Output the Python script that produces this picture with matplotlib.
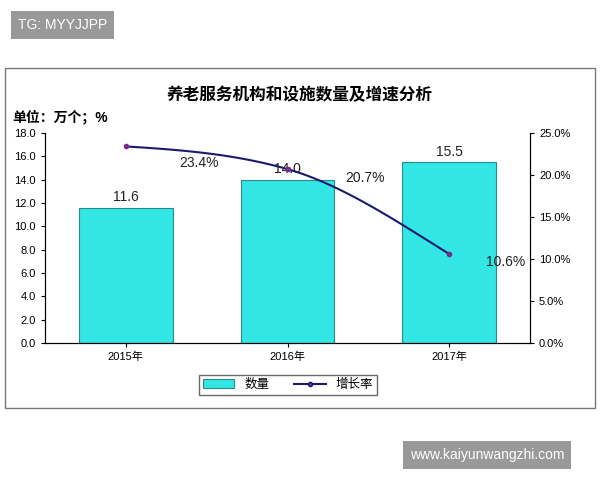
import numpy as np
import matplotlib.pyplot as plt
from matplotlib.patches import Rectangle

plt.rcParams['font.family'] = ['Liberation Sans', 'Noto Sans CJK SC', 'DejaVu Sans']

years = ['2015年', '2016年', '2017年']
counts = [11.6, 14.0, 15.5]
growth = [23.4, 20.7, 10.6]

fig = plt.figure(figsize=(6, 4.8), dpi=100)

# outer frame of the chart
fig.patches.append(Rectangle((5/600, 1-408/480), 590/600, 340/480, transform=fig.transFigure,
                             fill=False, edgecolor='#777777', lw=1))

ax = fig.add_axes([45/600, 1-343/480, 485/600, 210/480])
x = np.arange(len(years))
ax.bar(x, counts, width=0.58, color='#33e6e6', edgecolor='#2a8a8a', lw=0.8, label='数量')
for xi, v in zip(x, counts):
    ax.text(xi, v + 0.3, f'{v:.1f}', ha='center', va='bottom', fontsize=10, color='#222222')
ax.set_ylim(0, 18)
ax.set_yticks(np.arange(0, 18.1, 2))
ax.set_yticklabels([f'{v:.1f}' for v in np.arange(0, 18.1, 2)], fontsize=8)
ax.set_xlim(-0.5, 2.5)
ax.set_xticks(x)
ax.set_xticklabels(years, fontsize=8)
ax.tick_params(length=3)
ax.spines['top'].set_visible(False)

ax2 = ax.twinx()
# cubic Hermite between the points for a smooth curve
slopes = [-1.2, -5.5, -12.0]
xs_all, ys_all = [], []
for i in range(len(x) - 1):
    t = np.linspace(0, 1, 30)
    h00 = 2*t**3 - 3*t**2 + 1
    h10 = t**3 - 2*t**2 + t
    h01 = -2*t**3 + 3*t**2
    h11 = t**3 - t**2
    xs_all.append(x[i] + t)
    ys_all.append(h00*growth[i] + h10*slopes[i] + h01*growth[i+1] + h11*slopes[i+1])
ax2.plot(np.concatenate(xs_all), np.concatenate(ys_all), color='#1a1a6e', lw=1.5)
ax2.plot(x, growth, 'o', color='#7a2a8a', ms=3)
line_handle, = ax2.plot([], [], '-o', color='#1a1a6e', ms=3, lw=1.5, mfc='#7a2a8a')
offs = [(0.45, -2.0), (0.48, -1.0), (0.35, -1.0)]
for xi, v, (dx, dy) in zip(x, growth, offs):
    ax2.text(xi + dx, v + dy, f'{v:.1f}%', ha='center', va='center', fontsize=10, color='#222222')
ax2.set_ylim(0, 25)
ax2.set_yticks(np.arange(0, 25.1, 5))
ax2.set_yticklabels([f'{v:.1f}%' for v in np.arange(0, 25.1, 5)], fontsize=8)
ax2.spines['top'].set_visible(False)
ax2.tick_params(length=3)

fig.text(0.5, 1-95/480, '养老服务机构和设施数量及增速分析', ha='center', va='center',
         fontsize=12, fontweight='bold')
fig.text(12/600, 1-117/480, '单位：万个；%', ha='left', va='center', fontsize=10, fontweight='bold')

h1, l1 = ax.get_legend_handles_labels()
fig.legend([h1[0], line_handle], ['数量', '增长率'], loc='center', bbox_to_anchor=(0.48, 1-385/480),
           ncol=2, fontsize=9, frameon=True, edgecolor='#444444', fancybox=False,
           borderpad=0.3, handlelength=2.5)

# watermarks
fig.text(18/600, 1-25/480, 'TG: MYYJJPP', ha='left', va='center', fontsize=10, color='white',
         bbox=dict(boxstyle='square,pad=0.5', fc='#999999', ec='none'))
fig.text(487/600, 1-455/480, 'www.kaiyunwangzhi.com', ha='center', va='center', fontsize=10,
         color='white', bbox=dict(boxstyle='square,pad=0.5', fc='#999999', ec='none'))

fig.savefig('out.png', dpi=100)
